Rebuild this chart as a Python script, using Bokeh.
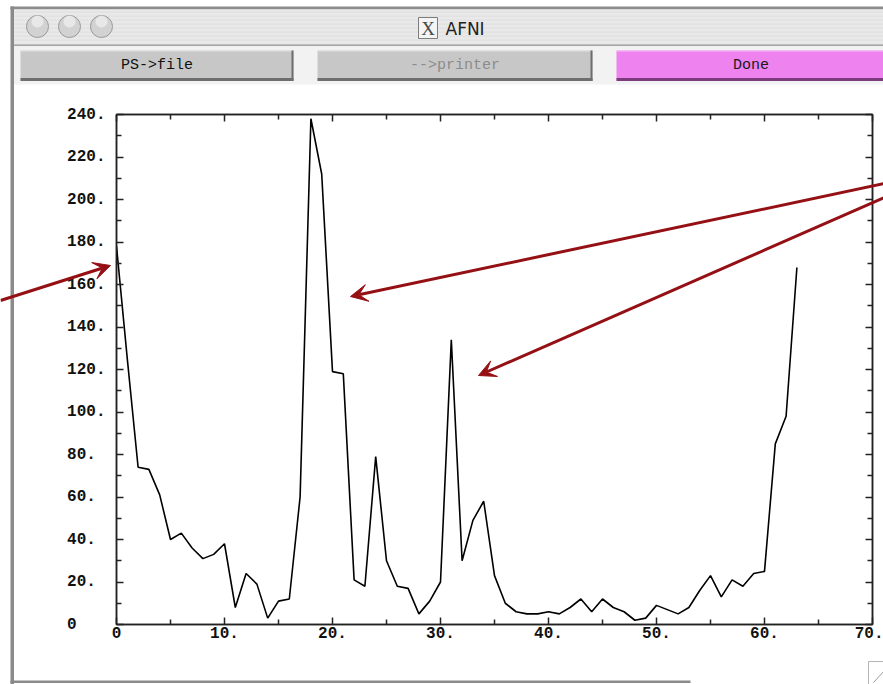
from bokeh.plotting import figure
from bokeh.layouts import column
from bokeh.models import (Range1d, LinearAxis, FixedTicker, Arrow, VeeHead, ColumnDataSource)
from bokeh.core.properties import value
from bokeh.embed import file_html
from bokeh.resources import INLINE

# ---- data ----
t = list(range(64))
signal = [178, 125, 74, 73, 61, 40, 43, 36, 31, 33,
          38, 8, 24, 19, 3, 11, 12, 60, 238, 212,
          119, 118, 21, 18, 79, 30, 18, 17, 5, 11,
          20, 134, 30, 49, 58, 23, 10, 6, 5, 5,
          6, 5, 8, 12, 6, 12, 8, 6, 2, 3,
          9, 7, 5, 8, 16, 23, 13, 21, 18, 24,
          25, 85, 98, 168]
x_ticks = [0, 10, 20, 30, 40, 50, 60, 70]
x_tick_labels = ["0", "10.", "20.", "30.", "40.", "50.", "60.", "70."]
x_minor = [5, 15, 25, 35, 45, 55, 65]
y_ticks = [0, 20, 40, 60, 80, 100, 120, 140, 160, 180, 200, 220, 240]
y_tick_labels = ["0", "20.", "40.", "60.", "80.", "100.", "120.", "140.", "160.",
                 "180.", "200.", "220.", "240."]
y_minor = [10, 30, 50, 70, 90, 110, 130, 150, 170, 190, 210, 230]
buttons = ["PS->file", "-->printer", "Done"]
window_title = "AFNI"

W, H = 883, 684

# ---------------- main chart ----------------
p = figure(width=W, height=H, output_backend="svg", toolbar_location=None,
           x_range=Range1d(0, 70), y_range=Range1d(0, 240),
           x_axis_location=None, y_axis_location=None,
           min_border_left=116, min_border_right=11, min_border_top=114,
           min_border_bottom=60)
p.frame_align = False
p.grid.visible = False
p.background_fill_color = "white"
p.border_fill_color = "white"
p.outline_line_color = "#222222"
p.outline_line_width = 1.5

lab_font = "Liberation Mono"

def style_axis(ax, labels, shown=True):
    ax.axis_line_color = "#222222"
    ax.axis_line_width = 1.5
    ax.major_tick_in = 7
    ax.major_tick_out = 0
    ax.minor_tick_in = 5
    ax.minor_tick_out = 0
    ax.major_tick_line_color = "#222222"
    ax.minor_tick_line_color = "#222222"
    ax.major_tick_line_width = 1.5
    ax.minor_tick_line_width = 1.5
    ax.major_label_text_font = lab_font
    ax.major_label_text_font_style = "bold"
    ax.major_label_text_font_size = "16px" if shown else "0px"
    ax.major_label_text_color = "#111111"
    ax.major_label_overrides = labels
    if not shown:
        ax.major_label_standoff = 0
        ax.axis_label_standoff = 0
        ax.axis_label_text_font_size = "0px"

xb = LinearAxis(ticker=FixedTicker(ticks=x_ticks, minor_ticks=x_minor))
style_axis(xb, {v: s for v, s in zip(x_ticks, x_tick_labels)})
xb.major_label_standoff = 2
p.add_layout(xb, "below")

xa = LinearAxis(ticker=FixedTicker(ticks=x_ticks, minor_ticks=x_minor))
style_axis(xa, {v: "" for v in x_ticks}, shown=False)
p.add_layout(xa, "above")

yl = LinearAxis(ticker=FixedTicker(ticks=y_ticks, minor_ticks=y_minor))
style_axis(yl, {v: (s + "\u00a0" * (4 - len(s))) for v, s in zip(y_ticks, y_tick_labels)})
yl.major_label_standoff = 11
p.add_layout(yl, "left")

yr = LinearAxis(ticker=FixedTicker(ticks=y_ticks, minor_ticks=y_minor))
style_axis(yr, {v: "" for v in y_ticks}, shown=False)
p.add_layout(yr, "right")

src = ColumnDataSource(dict(t=t, signal=signal))
p.line("t", "signal", source=src, line_color="black", line_width=1.6)

# ---------------- window chrome overlay (pixel space, y downward) ----------------
c = figure(width=W, height=H, output_backend="svg", toolbar_location=None,
           x_range=Range1d(0, W), y_range=Range1d(H, 0),
           x_axis_location=None, y_axis_location=None,
           min_border=0, min_border_left=0, min_border_right=0,
           min_border_top=0, min_border_bottom=0)
c.frame_align = False
c.grid.visible = False
c.background_fill_color = None
c.border_fill_color = None
c.outline_line_color = None
c.margin = (-H, 0, 0, 0)

def rect(l, r, top, bot, fill, line=None, lw=1):
    c.quad(left=l, right=r, top=top, bottom=bot, fill_color=fill,
           line_color=line, line_width=lw)

# window frame and title bar
rect(10, W + 2, 6, 9, "#8c8c8c")
rect(13, W + 2, 9, 44, "#e9e9e9")
for yy in range(11, 44, 4):
    rect(13, W + 2, yy, yy + 1.5, "#e2e2e2")
rect(13, W + 2, 44, 45.5, "#a4a4a4")
rect(13, W + 2, 45.5, 84, "#f2f2f2")
rect(10, 13.5, 6, H + 2, "#8a8a8a")
rect(10, 690, 680, 682.5, "#8a8a8a")

# traffic lights
c.circle(x=[37, 69, 101], y=[26, 26, 26], radius=11, fill_color="#d2d2d2",
         line_color="#999999", line_width=1)
c.circle(x=[37, 69, 101], y=[21, 21, 21], radius=6, fill_color="#eeeeee",
         line_color=None, fill_alpha=0.8)

# title with X icon
rect(418, 437, 17, 38, "#f4f4f4", "#7c7c7c", 1)
c.text(x=[427.5], y=[28], text=["X"], text_font=value("Liberation Serif"),
       text_font_size="19px", text_color="#4a4a4a", text_align="center",
       text_baseline="middle")
c.text(x=[445], y=[28], text=[window_title], text_font=value("DejaVu Sans"),
       text_font_size="17px", text_color="#222222", text_align="left",
       text_baseline="middle")

# buttons
btn_geom = [(20, 293, "#c7c7c7", "#6e6e6e", "#e4e4e4", "#111111"),
            (317, 592, "#c7c7c7", "#6e6e6e", "#e4e4e4", "#8c8c8c"),
            (616, W + 2, "#ee82ee", "#7a3c7a", "#f6c0f6", "#1a1a1a")]
for (l, r, fill, shade, hi, tc), label in zip(btn_geom, buttons):
    rect(l, r, 50, 80, fill)
    rect(l, r, 50, 51, hi)
    rect(l, r, 77.5, 80.5, shade)
    rect(r - 2, r, 50, 80.5, shade)
    c.text(x=[(l + r) / 2], y=[65], text=[label], text_font=value("Liberation Mono"),
           text_font_size="15px", text_color=tc, text_align="center",
           text_baseline="middle")

# resize corner
rect(868, W + 2, 661, H + 2, "#ffffff", "#b4b4b4", 1)
c.segment(x0=[873], y0=[682], x1=[884], y1=[670], line_color="#9a9a9a", line_width=1)

# red annotation arrows
arrow_color = "#951014"
for xs, ys, xe, ye in [(0, 300, 110, 265), (884, 183, 350, 296), (884, 197, 478, 375)]:
    c.add_layout(Arrow(x_start=xs, y_start=ys, x_end=xe, y_end=ye,
                       line_color=arrow_color, line_width=3,
                       end=VeeHead(size=17, fill_color=arrow_color, line_color=arrow_color,
                                   line_width=1)))

layout = column(p, c, spacing=0)
open("out.html", "w").write(file_html(layout, INLINE))
